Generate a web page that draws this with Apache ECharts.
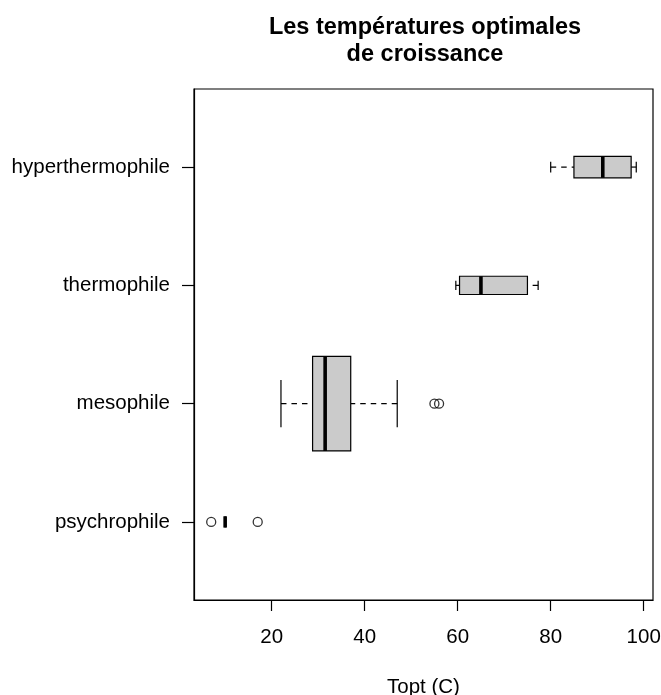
<!DOCTYPE html>
<html>
<head>
<meta charset="utf-8">
<title>Les températures optimales de croissance</title>
<script src="https://cdn.jsdelivr.net/npm/echarts@6/dist/echarts.min.js"></script>
<style>
  html, body { margin: 0; padding: 0; background: #fff; }
  #chart { width: 661px; height: 695px; }
</style>
</head>
<body>
<div id="chart"></div>
<script>
// Optimal growth temperature (°C) per thermal class
const categories = ['psychrophile', 'mesophile', 'thermophile', 'hyperthermophile'];
const lowerWhisker  = [10, 22.0, 59.6, 80.0];
const lowerQuartile = [10, 28.8, 60.4, 85.0];
const medians       = [10, 31.5, 65.0, 91.2];
const upperQuartile = [10, 37.0, 75.0, 97.3];
const upperWhisker  = [10, 47.0, 77.3, 98.4];
// number of organisms per class (box height ~ sqrt(n))
const counts = [5, 350, 13, 18];
// points beyond the whiskers, per class
const outliers = [[7, 17], [55, 56], [], []];
const xTicks = [20, 40, 60, 80, 100];

const maxN = Math.max.apply(null, counts);
const boxData = categories.map((c, i) => [
  i + 1, lowerWhisker[i], lowerQuartile[i], medians[i], upperQuartile[i], upperWhisker[i], counts[i]
]);
const outlierData = [];
outliers.forEach((vals, i) => vals.forEach(v => outlierData.push([v, i + 1])));

const FONT = 'Liberation Sans, Arial, Helvetica, sans-serif';

function renderBox(params, api) {
  const y = api.value(0);
  const lo = api.value(1), q1 = api.value(2), med = api.value(3), q3 = api.value(4), hi = api.value(5);
  const n = api.value(6);
  const half = 0.4 * Math.sqrt(n / maxN);          // half box height, in axis units
  const yTop = api.coord([q1, y + half])[1];
  const yBot = api.coord([q1, y - half])[1];
  const yMid = api.coord([q1, y])[1];
  const sHalf = (yBot - yTop) / 4;                   // staple = half the box height
  const xLo = api.coord([lo, y])[0];
  const xQ1 = api.coord([q1, y])[0];
  const xMed = api.coord([med, y])[0];
  const xQ3 = api.coord([q3, y])[0];
  const xHi = api.coord([hi, y])[0];
  const dashed = { stroke: '#000', lineWidth: 1.2, lineDash: [5.5, 5] };
  const solid = { stroke: '#000', lineWidth: 1.2 };
  return {
    type: 'group',
    children: [
      { type: 'line', shape: { x1: xLo, y1: yMid, x2: xQ1, y2: yMid }, style: dashed },
      { type: 'line', shape: { x1: xHi, y1: yMid, x2: xQ3, y2: yMid }, style: dashed },
      { type: 'line', shape: { x1: xLo, y1: yMid - sHalf, x2: xLo, y2: yMid + sHalf }, style: solid },
      { type: 'line', shape: { x1: xHi, y1: yMid - sHalf, x2: xHi, y2: yMid + sHalf }, style: solid },
      { type: 'rect', shape: { x: xQ1, y: yTop, width: xQ3 - xQ1, height: yBot - yTop },
        style: { fill: '#cbcbcb', stroke: '#000', lineWidth: 1.2 } },
      { type: 'line', shape: { x1: xMed, y1: yTop, x2: xMed, y2: yBot },
        style: { stroke: '#000', lineWidth: 3.6 } }
    ]
  };
}

const chart = echarts.init(document.getElementById('chart'), null, { renderer: 'canvas' });
chart.setOption({
  animation: false,
  backgroundColor: '#fff',
  textStyle: { fontFamily: FONT },
  title: {
    text: 'Les températures optimales\nde croissance',
    left: 420,
    top: 9,
    textAlign: 'center',
    textStyle: { fontFamily: FONT, fontSize: 23.5, fontWeight: 'bold', color: '#000', lineHeight: 27 }
  },
  grid: {
    left: 194, right: 8, top: 89, bottom: 95,
    containLabel: false,
    outerBoundsMode: 'none',
    show: true, borderColor: '#000', borderWidth: 1.2, backgroundColor: 'transparent'
  },
  xAxis: {
    type: 'value',
    min: 3.3,
    max: 102,
    name: 'Topt (C)',
    nameLocation: 'middle',
    nameGap: 77,
    nameTextStyle: { fontFamily: FONT, fontSize: 20.5, color: '#000' },
    axisLine: { show: true, lineStyle: { color: '#000', width: 1.2 } },
    axisTick: { show: true, inside: false, length: 11, customValues: xTicks, lineStyle: { color: '#000', width: 1.2 } },
    axisLabel: { customValues: xTicks, fontSize: 20.5, color: '#000', margin: 27, fontFamily: FONT },
    splitLine: { show: false }
  },
  yAxis: {
    type: 'value',
    min: 0.34,
    max: 4.66,
    axisLine: { show: true, lineStyle: { color: '#000', width: 1.2 } },
    axisTick: { show: true, inside: false, length: 12, customValues: [1, 2, 3, 4], lineStyle: { color: '#000', width: 1.2 } },
    axisLabel: {
      customValues: [1, 2, 3, 4],
      formatter: v => categories[Math.round(v) - 1],
      fontSize: 20.5, color: '#000', margin: 24, fontFamily: FONT
    },
    splitLine: { show: false }
  },
  series: [
    {
      type: 'custom',
      renderItem: renderBox,
      encode: { x: [1, 2, 3, 4, 5], y: 0 },
      data: boxData,
      z: 2
    },
    {
      type: 'scatter',
      data: outlierData,
      symbol: 'circle',
      symbolSize: 9,
      itemStyle: { color: 'transparent', borderColor: '#000', borderWidth: 1.3 },
      z: 3
    }
  ]
});
</script>
</body>
</html>
